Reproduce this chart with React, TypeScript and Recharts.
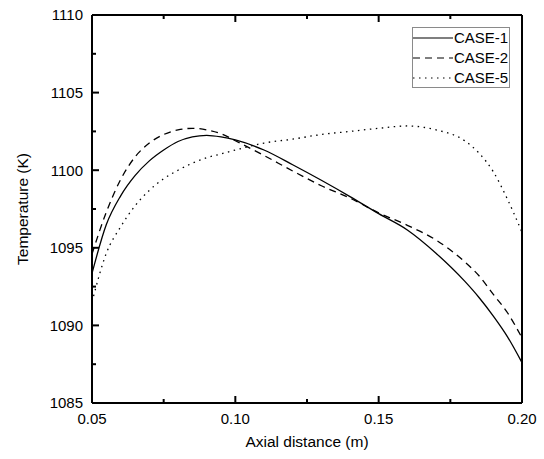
import React from 'react';
import { LineChart, Line, XAxis, YAxis, Legend, ReferenceLine } from 'recharts';

// axial distance (m) and temperatures (K)
const axialDistance = [
  0.05, 0.055, 0.06, 0.065, 0.07, 0.075, 0.08, 0.085, 0.09, 0.095, 0.1,
  0.11, 0.12, 0.13, 0.14, 0.15, 0.16, 0.17, 0.18, 0.185, 0.19, 0.195, 0.2,
];
const case1 = [
  1093.35, 1096.5, 1098.35, 1099.65, 1100.6, 1101.3, 1101.85, 1102.15, 1102.25, 1102.15, 1101.95,
  1101.3, 1100.35, 1099.35, 1098.3, 1097.2, 1096.15, 1094.65, 1092.85, 1091.8, 1090.6, 1089.25, 1087.6,
];
const case2 = [
  1094.6, 1097.3, 1099.4, 1100.85, 1101.75, 1102.3, 1102.6, 1102.7, 1102.6, 1102.35, 1101.9,
  1100.95, 1099.95, 1099.0, 1098.2, 1097.25, 1096.45, 1095.5, 1094.1, 1093.2, 1092.0, 1090.8, 1089.2,
];
const case5 = [
  1091.5, 1094.65, 1096.35, 1097.7, 1098.7, 1099.45, 1100.0, 1100.45, 1100.8, 1101.05, 1101.3,
  1101.75, 1102.0, 1102.3, 1102.5, 1102.7, 1102.85, 1102.6, 1101.9, 1101.1, 1099.9, 1098.1, 1096.0,
];

const xMajorTicks = [0.05, 0.1, 0.15, 0.2];
const xMinorTicks = [0.075, 0.125, 0.175];
const xTickLabels = ['0.05', '0.10', '0.15', '0.20'];
const yMajorTicks = [1085, 1090, 1095, 1100, 1105, 1110];
const yMinorTicks = [1087.5, 1092.5, 1097.5, 1102.5, 1107.5];
const yTickLabels = ['1085', '1090', '1095', '1100', '1105', '1110'];

const series = [
  { key: 'case1', name: 'CASE-1', dash: undefined as string | undefined },
  { key: 'case2', name: 'CASE-2', dash: '7 5' },
  { key: 'case5', name: 'CASE-5', dash: '1.5 4.5' },
];

const data = axialDistance.map((x, i) => ({ x, case1: case1[i], case2: case2[i], case5: case5[i] }));

const FONT = '"Liberation Sans", Arial, sans-serif';
const xTicks = [...xMajorTicks, ...xMinorTicks].sort((a, b) => a - b);
const yTicks = [...yMajorTicks, ...yMinorTicks].sort((a, b) => a - b);

const majorIndex = (list: number[], v: number) => list.findIndex(m => Math.abs(m - v) < 1e-9);

// ticks point into the plot; labels only on the bottom / left axes
const BottomTick = (props: any) => {
  const { x, y, payload } = props;
  const idx = majorIndex(xMajorTicks, payload.value);
  return (
    <g>
      <path d={`M${x},${y}L${x},${y - (idx >= 0 ? 7 : 4)}`} stroke="#000" strokeWidth={2} fill="none" />
      {idx >= 0 && (
        <text x={x} y={y} dy={20.5} textAnchor="middle" fontSize={15} fontFamily={FONT} fill="#000">
          {xTickLabels[idx]}
        </text>
      )}
    </g>
  );
};

const TopTick = (props: any) => {
  const { x, y, payload } = props;
  const idx = majorIndex(xMajorTicks, payload.value);
  return <path d={`M${x},${y}L${x},${y + (idx >= 0 ? 7 : 4)}`} stroke="#000" strokeWidth={2} fill="none" />;
};

const LeftTick = (props: any) => {
  const { x, y, payload } = props;
  const idx = majorIndex(yMajorTicks, payload.value);
  return (
    <g>
      <path d={`M${x},${y}L${x + (idx >= 0 ? 7 : 4)},${y}`} stroke="#000" strokeWidth={2} fill="none" />
      {idx >= 0 && (
        <text x={x - 9} y={y} dy={5.3} textAnchor="end" fontSize={15} fontFamily={FONT} fill="#000">
          {yTickLabels[idx]}
        </text>
      )}
    </g>
  );
};

const RightTick = (props: any) => {
  const { x, y, payload } = props;
  const idx = majorIndex(yMajorTicks, payload.value);
  return <path d={`M${x},${y}L${x - (idx >= 0 ? 7 : 4)},${y}`} stroke="#000" strokeWidth={2} fill="none" />;
};

const LegendBox = () => (
  <div style={{ border: '1px solid #8a8a8a', width: 96, height: 59, background: '#fff', fontFamily: FONT, fontSize: 15 }}>
    {series.map(s => (
      <div key={s.key} style={{ display: 'flex', alignItems: 'center', height: 20, lineHeight: '20px' }}>
        <svg width={40} height={20} style={{ display: 'block' }}>
          <line x1={0} y1={10} x2={40} y2={10} stroke="#000" strokeWidth={1.2} strokeDasharray={s.dash} />
        </svg>
        <span style={{ color: '#000', marginLeft: 1 }}>{s.name}</span>
      </div>
    ))}
  </div>
);

export default function App() {
  const common = {
    stroke: '#000',
    strokeWidth: 2,
    axisLine: { stroke: '#000', strokeWidth: 2 },
    tickSize: 0,
    tickMargin: 0,
    tickLine: false,
    interval: 0 as const,
    type: 'number' as const,
  };
  return (
    <div style={{ position: 'absolute', left: 0, top: 0, background: '#fff' }}>
      <LineChart width={544} height={459} data={data} margin={{ top: 14, right: 21, left: 0, bottom: 0 }}>
        <XAxis
          {...common}
          xAxisId="bottom"
          dataKey="x"
          domain={[0.05, 0.2]}
          ticks={xTicks}
          height={56}
          tick={BottomTick}
          label={{ value: 'Axial distance (m)', position: 'center', dy: 10, fontSize: 15.5, fontFamily: FONT, fill: '#000', stroke: 'none' }}
        />
        <XAxis
          {...common}
          xAxisId="top"
          orientation="top"
          dataKey="x"
          domain={[0.05, 0.2]}
          ticks={xTicks}
          height={1}
          tick={TopTick}
        />
        <YAxis
          {...common}
          yAxisId="left"
          domain={[1085, 1110]}
          ticks={yTicks}
          width={92}
          tick={LeftTick}
          label={{ value: 'Temperature (K)', angle: -90, position: 'center', dx: -24, fontSize: 15.5, fontFamily: FONT, fill: '#000', stroke: 'none' }}
        />
        <YAxis
          {...common}
          yAxisId="right"
          orientation="right"
          domain={[1085, 1110]}
          ticks={yTicks}
          width={1}
          tick={RightTick}
        />
        {/* closing frame on the top and right edges */}
        <ReferenceLine xAxisId="bottom" yAxisId="left" y={1110} stroke="#000" strokeWidth={2} />
        <ReferenceLine xAxisId="bottom" yAxisId="left" x={0.2} stroke="#000" strokeWidth={2} />
        <Legend
          layout="vertical"
          align="center"
          verticalAlign="middle"
          content={<LegendBox />}
          wrapperStyle={{ position: 'absolute', left: 412, top: 27, width: 98, height: 61 }}
        />
        {series.map(s => (
          <Line
            key={s.key}
            xAxisId="bottom"
            yAxisId="left"
            dataKey={s.key}
            name={s.name}
            type="monotone"
            stroke="#000"
            strokeWidth={1.3}
            strokeDasharray={s.dash}
            dot={false}
            activeDot={false}
            isAnimationActive={false}
          />
        ))}
      </LineChart>
    </div>
  );
}
